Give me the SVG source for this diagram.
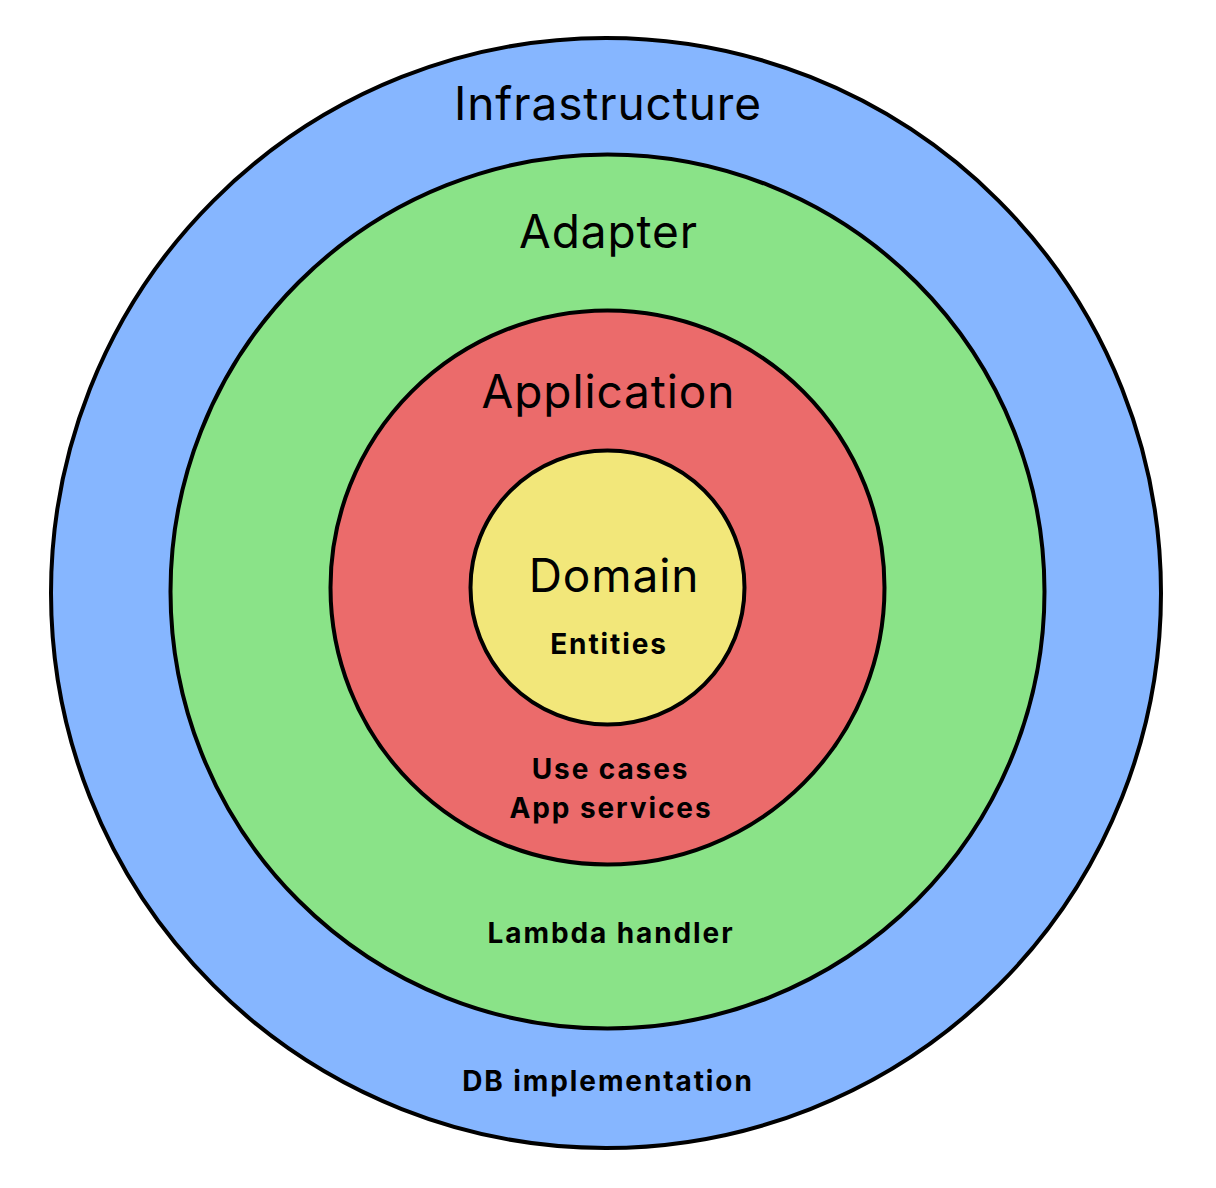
<svg xmlns="http://www.w3.org/2000/svg" width="1216" height="1188" viewBox="0 0 1216 1188">
<style>
.ring{stroke:#000;stroke-width:4}
.title{font-family:Inter,"Noto Sans",sans-serif;font-size:46px;font-weight:400;fill:#000;text-anchor:middle;letter-spacing:0.9px}
.label{font-family:Inter,"Noto Sans",sans-serif;font-size:28px;font-weight:700;fill:#000;text-anchor:middle;letter-spacing:1.9px}
</style>
<rect width="1216" height="1188" fill="#fff"/>
<g id="infrastructure">
<circle class="ring" cx="606" cy="593" r="555" fill="#86B6FF"/>
<text class="title" x="608" y="120">Infrastructure</text>
<text class="label" x="608" y="1091">DB implementation</text>
</g>
<g id="adapter">
<circle class="ring" cx="607.5" cy="591.5" r="437" fill="#8AE388"/>
<text class="title" x="608.5" y="248">Adapter</text>
<text class="label" x="611" y="943">Lambda handler</text>
</g>
<g id="application">
<circle class="ring" cx="607.5" cy="587.5" r="277" fill="#EB6B6B"/>
<text class="title" x="608.5" y="408">Application</text>
<text class="label" x="610.5" y="779">Use cases</text>
<text class="label" x="611" y="818">App services</text>
</g>
<g id="domain">
<circle class="ring" cx="607.5" cy="587.5" r="137" fill="#F2E77A"/>
<text class="title" x="614" y="592">Domain</text>
<text class="label" x="609" y="654">Entities</text>
</g>
<g id="connectors"/>
</svg>
